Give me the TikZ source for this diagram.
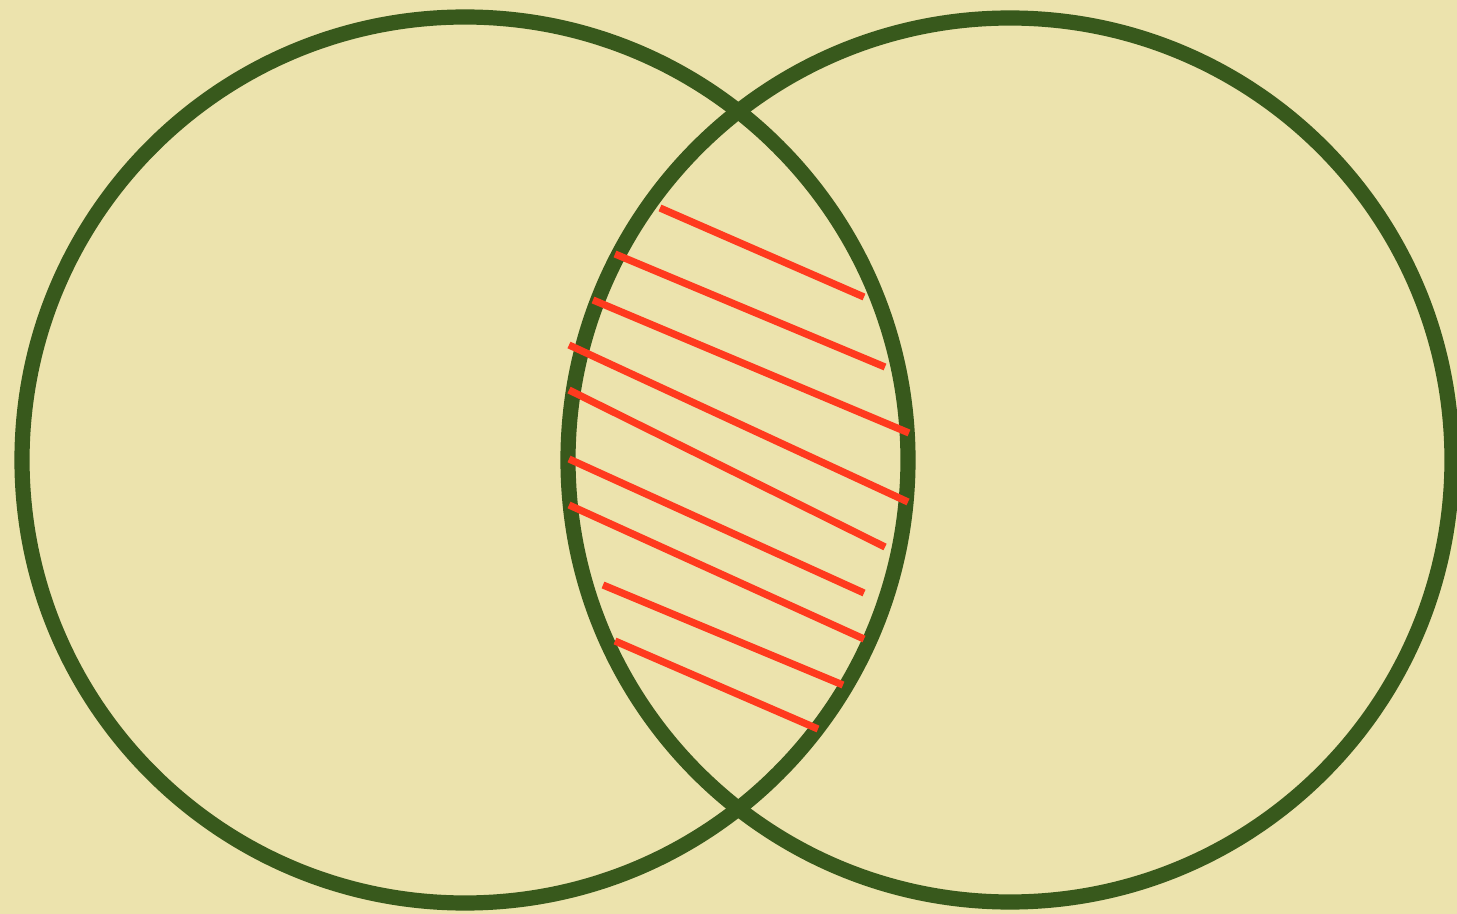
\documentclass[tikz,border=0pt]{standalone}
\begin{document}
\begin{tikzpicture}[x=0.5pt,y=-0.5pt,
  ring/.style={draw=ringgreen,line width=7.6pt},
  hatch/.style={draw=hatchred,line width=3.6pt,line cap=butt}]
\definecolor{ringgreen}{HTML}{38591C}
\definecolor{hatchred}{HTML}{FF3A1E}
\definecolor{paper}{HTML}{ECE3AD}
\fill[paper] (0,0) rectangle (1457,914);
\useasboundingbox (0,0) rectangle (1457,914);
\draw[ring] (465,460) circle[radius=443];
\draw[ring] (1010,460) circle[radius=442];
\draw[hatch] (660,208) -- (864,297);
\draw[hatch] (615,254) -- (885,367);
\draw[hatch] (593,300) -- (909,433);
\draw[hatch] (569,345) -- (908,502);
\draw[hatch] (569,390) -- (885,547);
\draw[hatch] (569,459) -- (864,593);
\draw[hatch] (569,505) -- (864,639);
\draw[hatch] (603,585) -- (843,685);
\draw[hatch] (615,641) -- (818,729);
\end{tikzpicture}
\end{document}
